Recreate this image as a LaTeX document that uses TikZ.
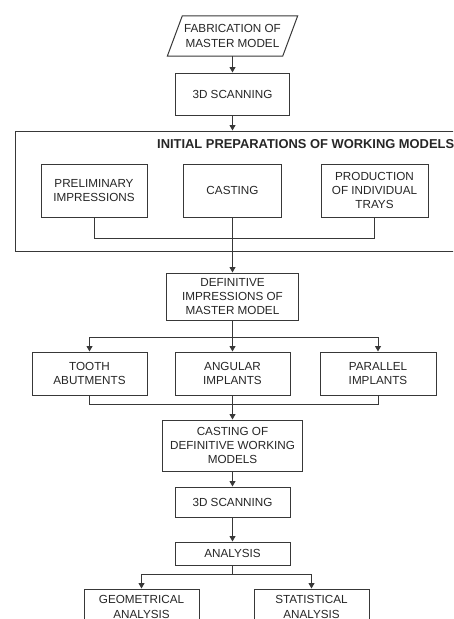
\documentclass[tikz,border=0pt]{standalone}
\usepackage{fontspec}
\setmainfont{Liberation Sans}
\usetikzlibrary{arrows.meta}
\definecolor{ln}{HTML}{383838}
\definecolor{tx}{HTML}{262626}
\begin{document}
\begin{tikzpicture}[x=1pt,y=-1pt,
  every node/.style={font=\fontsize{11.7}{14.3}\selectfont, text=tx, align=center, inner sep=0pt},
  box/.style={draw=ln, line width=1pt, minimum width=#1},
  conn/.style={draw=ln, line width=1pt},
  arr/.style={conn, -{Triangle[length=5.5pt,width=6pt]}}]
\useasboundingbox (0,0) rectangle (453,619);
\clip (0,0) rectangle (453,619);
% parallelogram
\node (fab) [minimum width=115pt, minimum height=40pt] at (232.5,36) {FABRICATION OF\\MASTER MODEL};
\draw[conn] ([xshift=-7.5pt]fab.south west) -- ([xshift=7.5pt]fab.north west) -- ([xshift=7.5pt]fab.north east) -- ([xshift=-7.5pt]fab.south east) -- cycle;
\node (scan1) [box=114pt, minimum height=42pt] at (232.5,94) {3D SCANNING};
\node (outer) [box=445pt, minimum height=120pt] at (237.5,191) {};
\node (title) [anchor=west, font=\fontsize{12.9}{15}\selectfont\bfseries] at (157,144) {INITIAL PREPARATIONS OF WORKING MODELS};
\node (prelim) [box=106pt, minimum height=53pt] at (94,190.5) {PRELIMINARY\\IMPRESSIONS};
\node (cast) [box=98pt, minimum height=53pt] at (232.5,190.5) {CASTING};
\node (prod) [box=107pt, minimum height=53pt] at (374.5,190.5) {PRODUCTION\\OF INDIVIDUAL\\TRAYS};
\node (def) [box=132pt, minimum height=47pt] at (232.5,296.5) {DEFINITIVE\\IMPRESSIONS OF\\MASTER MODEL};
\node (tooth) [box=115pt, minimum height=43pt] at (89.5,373.5) {TOOTH\\ABUTMENTS};
\node (ang) [box=115pt, minimum height=43pt] at (232.5,373.5) {ANGULAR\\IMPLANTS};
\node (par) [box=116pt, minimum height=43pt] at (378,373.5) {PARALLEL\\IMPLANTS};
\node (castdef) [box=140pt, minimum height=51pt] at (232.5,445.5) {CASTING OF\\DEFINITIVE WORKING\\MODELS};
\node (scan2) [box=115pt, minimum height=30pt] at (232.5,502) {3D SCANNING};
\node (anal) [box=115pt, minimum height=23pt] at (232.5,553.5) {ANALYSIS};
\node (geo) [box=115pt, minimum height=36pt] at (141.5,607) {GEOMETRICAL\\ANALYSIS};
\node (stat) [box=115pt, minimum height=36pt] at (311.5,607) {STATISTICAL\\ANALYSIS};
% connectors
\draw[arr] (fab.south) -- (scan1.north);
\draw[arr] (scan1.south) -- (outer.north -| scan1.south);
\draw[conn] (prelim.south) -- ++(0,21) -| (prod.south);
\draw[arr] (cast.south) -- (def.north);
\coordinate (j1) at ([yshift=-17pt]def.south);
\draw[arr] (def.south) -- (ang.north);
\draw[arr] (j1) -| (tooth.north);
\draw[arr] (j1) -| (par.north);
\draw[conn] (tooth.south) -- ++(0,9) -| (par.south);
\draw[arr] (ang.south) -- (castdef.north);
\draw[arr] (castdef.south) -- (scan2.north);
\draw[arr] (scan2.south) -- (anal.north);
\coordinate (j2) at ([yshift=-9pt]anal.south);
\draw[conn] (anal.south) -- (j2);
\draw[arr] (j2) -| (geo.north);
\draw[arr] (j2) -| (stat.north);
\end{tikzpicture}
\end{document}
